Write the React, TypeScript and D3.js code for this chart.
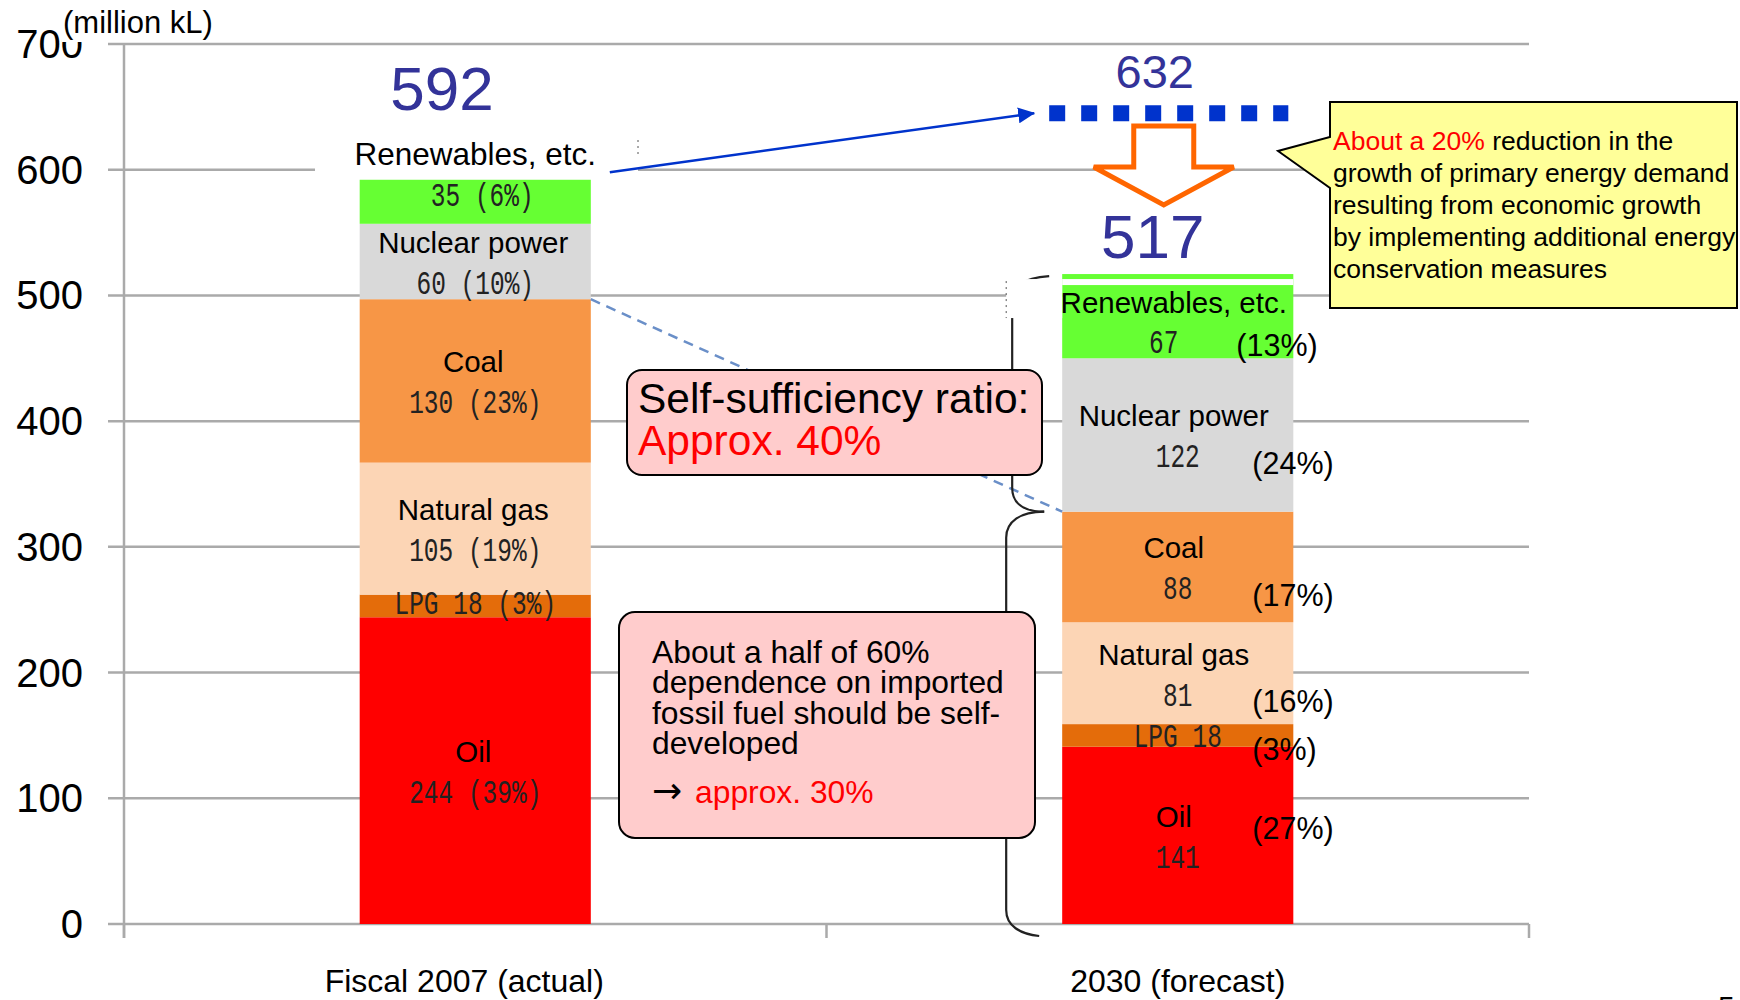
import React, { useEffect } from 'react';
import * as d3 from 'd3';

// primary energy supply, million kL crude oil equivalent
const categories = ['Fiscal 2007 (actual)', '2030 (forecast)'];
const sources = ['Oil', 'LPG', 'Natural gas', 'Coal', 'Nuclear power', 'Renewables, etc.'];
const values2007 = [244, 18, 105, 130, 60, 35];
const values2030 = [141, 18, 81, 88, 122, 67];
const shares2007 = [39, 3, 19, 23, 10, 6];
const shares2030 = [27, 3, 16, 17, 24, 13];
const totals = [592, 517];
const demandBeforeSaving = 632;
const demandLineLevel = 645; // where the dotted line sits in the picture
const yTicks = [0, 100, 200, 300, 400, 500, 600, 700];

const colors = ['#FF0000', '#E46C0A', '#FCD5B5', '#F79646', '#D9D9D9', '#66FF33'];

const sans = '"Liberation Sans", Arial, sans-serif';
const mono = '"Liberation Mono", "DejaVu Sans Mono", monospace';

const App = () => {
  useEffect(() => {
    document.body.style.margin = '0';
  }, []);

  const width = 1740;
  const height = 1000;

  const y = d3.scaleLinear().domain([0, 700]).range([924, 44]);
  const x = d3
    .scaleBand()
    .domain(categories)
    .range([124, 1529])
    .paddingInner(0.671)
    .paddingOuter(0.3355);
  const bw = x.bandwidth();

  const table = categories.map((c, i) => {
    const row = { category: c };
    const vals = i === 0 ? values2007 : values2030;
    sources.forEach((s, j) => (row[s] = vals[j]));
    return row;
  });
  const stacked = d3.stack().keys(sources)(table);

  const x1 = x(categories[0]);
  const x2 = x(categories[1]);
  const c1 = x1 + bw / 2;
  const c2 = x2 + bw / 2;

  const monoLabel = (key, cx, cy, txt, color = '#222') => (
    <text
      key={key}
      transform={`translate(${cx},${cy}) scale(1,1.32)`}
      textAnchor="middle"
      dominantBaseline="central"
      fontFamily={mono}
      fontSize={24.5}
      fill={color}
    >
      {txt}
    </text>
  );
  const nameLabel = (key, cx, cy, txt) => (
    <text key={key} x={cx} y={cy} textAnchor="middle" dominantBaseline="central" fontFamily={sans} fontSize={29.5} fill="#000">
      {txt}
    </text>
  );

  const labels2007 = [];
  const labels2030 = [];
  stacked.forEach((layer, j) => {
    const d1 = layer[0];
    const m1 = y((d1[0] + d1[1]) / 2);
    if (j === 1) {
      labels2007.push(monoLabel('l1-' + j, c1, m1, `LPG ${values2007[j]} (${shares2007[j]}%)`));
    } else if (j === 5) {
      labels2007.push(monoLabel('l1-' + j, c1 + 7, m1 - 4, `${values2007[j]} (${shares2007[j]}%)`));
    } else {
      labels2007.push(nameLabel('n1-' + j, c1 - 2, m1 - 19, sources[j]));
      labels2007.push(monoLabel('l1-' + j, c1, m1 + 24, `${values2007[j]} (${shares2007[j]}%)`));
    }

    const d2 = layer[1];
    const m2 = y((d2[0] + d2[1]) / 2);
    const pctX = x2 + bw - 41;
    if (j === 1) {
      labels2030.push(monoLabel('l2-' + j, c2, m2 + 3, `LPG ${values2030[j]}`));
      labels2030.push(
        <text key={'p2-' + j} x={pctX} y={m2 + 14} dominantBaseline="central" fontFamily={sans} fontSize={30.5}>
          ({shares2030[j]}%)
        </text>
      );
    } else {
      const isRenew = j === 5;
      labels2030.push(nameLabel('n2-' + j, c2 - 4, m2 - (isRenew ? 14 : 19), sources[j]));
      labels2030.push(monoLabel('l2-' + j, c2 - (isRenew ? 14 : 0), m2 + (isRenew ? 28 : 24), `${values2030[j]}`));
      labels2030.push(
        <text
          key={'p2-' + j}
          x={pctX - (isRenew ? 16 : 0)}
          y={m2 + (j === 0 ? -7 : isRenew ? 29 : 28)}
          dominantBaseline="central"
          fontFamily={sans}
          fontSize={30.5}
        >
          ({shares2030[j]}%)
        </text>
      );
    }
  });

  // brackets left of the 2030 bar
  const top2 = y(totals[1]);
  const cusp = y(d3.sum(values2030.slice(0, 4)));
  const bottom = y(0) + 12;
  const bx = x2 - 50;
  const upperBracket = `M${bx + 37},${top2 + 2} C${bx + 10},${top2 + 4} ${bx},${top2 + 12} ${bx},${top2 + 28} L${bx},${cusp - 24} C${bx},${cusp - 8} ${bx + 12},${cusp} ${bx + 32},${cusp}`;
  const lowerBracket = `M${bx + 32},${cusp} C${bx + 8},${cusp} ${bx - 6},${cusp + 10} ${bx - 6},${cusp + 26} L${bx - 6},${bottom - 26} C${bx - 6},${bottom - 10} ${bx + 8},${bottom - 2} ${bx + 27},${bottom}`;

  const arrowStart = [x1 + bw + 19, y(598)];
  const dotsX0 = x2 - 13;
  const dotsX1 = x2 + bw - 5;
  const dotsY = y(demandLineLevel);
  const arrowEnd = [dotsX0 - 15, dotsY];

  const oc = c2 - 14; // orange arrow centre
  const orangeArrow = `M${oc - 30},126 H${oc + 30} V167 H${oc + 70} L${oc},205 L${oc - 70},167 H${oc - 30} Z`;

  return (
    <svg width={width} height={height} style={{ display: 'block', background: '#fff' }}>
      <defs>
        <marker id="blueHead" markerUnits="userSpaceOnUse" markerWidth="18" markerHeight="16" refX="16" refY="8" orient="auto">
          <path d="M0,0 L17,8 L0,16 Z" fill="#0033CC" />
        </marker>
      </defs>

      {/* grid and axes */}
      <g>
        {yTicks.map((t) => (
          <line key={t} x1={108} x2={1529} y1={y(t)} y2={y(t)} stroke="#AAAAAA" strokeWidth={2.5} />
        ))}
        <line x1={124} x2={124} y1={y(700)} y2={y(0) + 14} stroke="#AAAAAA" strokeWidth={2.5} />
        {[0, 1, 2].map((k) => (
          <line key={k} x1={124 + k * x.step()} x2={124 + k * x.step()} y1={y(0)} y2={y(0) + 14} stroke="#AAAAAA" strokeWidth={2.5} />
        ))}
        {yTicks.map((t) => (
          <text key={t} x={83} y={y(t)} textAnchor="end" dominantBaseline="central" fontFamily={sans} fontSize={40} fill="#000">
            {t}
          </text>
        ))}
        {categories.map((c, i) => (
          <text key={c} x={x(c) + bw / 2 - (i === 0 ? 11 : 0)} y={992} textAnchor="middle" fontFamily={sans} fontSize={32} fill="#000">
            {c}
          </text>
        ))}
      </g>

      {/* unit label box over the 700 tick */}
      <rect x={62} y={0} width={158} height={42} fill="#fff" />
      <text x={63} y={33} fontFamily={sans} fontSize={31} fill="#000">
        (million kL)
      </text>

      {/* label box above 2007 bar */}
      <rect x={315} y={128} width={323} height={49} fill="#fff" />
      <line x1={638} x2={638} y1={140} y2={157} stroke="#555" strokeWidth={1} strokeDasharray="2 4" />
      <text x={c1} y={165} textAnchor="middle" fontFamily={sans} fontSize={31.5} fill="#000">
        {sources[5]}
      </text>

      {/* bars */}
      {stacked.map((layer, j) => (
        <g key={sources[j]} fill={colors[j]}>
          {layer.map((d, i) => (
            <rect key={i} x={x(categories[i])} width={bw} y={y(d[1])} height={y(d[0]) - y(d[1])} />
          ))}
        </g>
      ))}

      {/* dashed connector */}
      <line
        x1={x1 + bw}
        y1={y(d3.sum(values2007.slice(0, 4)))}
        x2={x2}
        y2={cusp}
        stroke="#6A8FC8"
        strokeWidth={2.5}
        strokeDasharray="10 7"
      />

      {/* brackets */}
      <path d={upperBracket} fill="none" stroke="#222" strokeWidth={2.2} />
      <path d={lowerBracket} fill="none" stroke="#222" strokeWidth={2.2} />

      {/* white text box remnant over top of 2030 bar */}
      <rect x={bx - 6} y={top2 + 5} width={x2 - bx + 6} height={39} fill="#fff" />
      <rect x={x2} y={top2 + 5} width={bw} height={6} fill="#fff" />
      <line x1={bx - 6} x2={bx - 6} y1={top2 + 7} y2={top2 + 44} stroke="#555" strokeWidth={1} strokeDasharray="2 4" />

      {labels2007}
      {labels2030}

      {/* totals */}
      <text x={442} y={110} textAnchor="middle" fontFamily={sans} fontSize={62} fill="#333399">
        {totals[0]}
      </text>
      <text x={c2 - 25} y={258} textAnchor="middle" fontFamily={sans} fontSize={62} fill="#333399">
        {totals[1]}
      </text>
      <text x={c2 - 23} y={88} textAnchor="middle" fontFamily={sans} fontSize={47} fill="#333399">
        {demandBeforeSaving}
      </text>

      {/* blue arrow and dotted demand line */}
      <line
        x1={arrowStart[0]}
        y1={arrowStart[1]}
        x2={arrowEnd[0]}
        y2={arrowEnd[1]}
        stroke="#0033CC"
        strokeWidth={2.5}
        markerEnd="url(#blueHead)"
      />
      <line x1={dotsX0} x2={dotsX1} y1={dotsY} y2={dotsY} stroke="#0033CC" strokeWidth={16} strokeDasharray="16 16" />

      {/* hollow orange arrow */}
      <path d={orangeArrow} fill="#fff" stroke="#FF6600" strokeWidth={5} strokeLinejoin="miter" />

      {/* yellow callout */}
      <path d="M1330,102 H1737 V308 H1330 V188 L1278,151 L1330,137 Z" fill="#FFFF99" stroke="#000" strokeWidth={2} />
      <g fontFamily={sans} fontSize={26.5} fill="#000">
        <text x={1333} y={150}>
          <tspan fill="#FF0000">About a 20%</tspan> reduction in the
        </text>
        <text x={1333} y={182}>growth of primary energy demand</text>
        <text x={1333} y={214}>resulting from economic growth</text>
        <text x={1333} y={246}>by implementing additional energy</text>
        <text x={1333} y={278}>conservation measures</text>
      </g>

      {/* self-sufficiency box */}
      <rect x={627} y={370} width={415} height={105} rx={15} fill="#FFCCCC" stroke="#000" strokeWidth={2} />
      <text x={638} y={413} fontFamily={sans} fontSize={42.5} fill="#000">
        Self-sufficiency ratio:
      </text>
      <text x={638} y={455} fontFamily={sans} fontSize={42.5} fill="#FF0000">
        Approx. 40%
      </text>

      {/* fossil fuel box */}
      <rect x={619} y={612} width={416} height={226} rx={16} fill="#FFCCCC" stroke="#000" strokeWidth={2} />
      <g fontFamily={sans} fontSize={31.8} fill="#000">
        <text x={652} y={663}>About a half of 60%</text>
        <text x={652} y={693}>dependence on imported</text>
        <text x={652} y={724}>fossil fuel should be self-</text>
        <text x={652} y={754}>developed</text>
        <text x={652} y={803}>
          <tspan fontFamily='"DejaVu Sans", sans-serif' fontSize={36}>→</tspan>
          <tspan dx={4}> </tspan>
          <tspan fill="#FF0000">approx. 30%</tspan>
        </text>
      </g>

      {/* page number, cut by the frame */}
      <text x={1718} y={1017} fontFamily={sans} fontSize={30} fill="#000">
        5
      </text>
    </svg>
  );
};

export default App;
